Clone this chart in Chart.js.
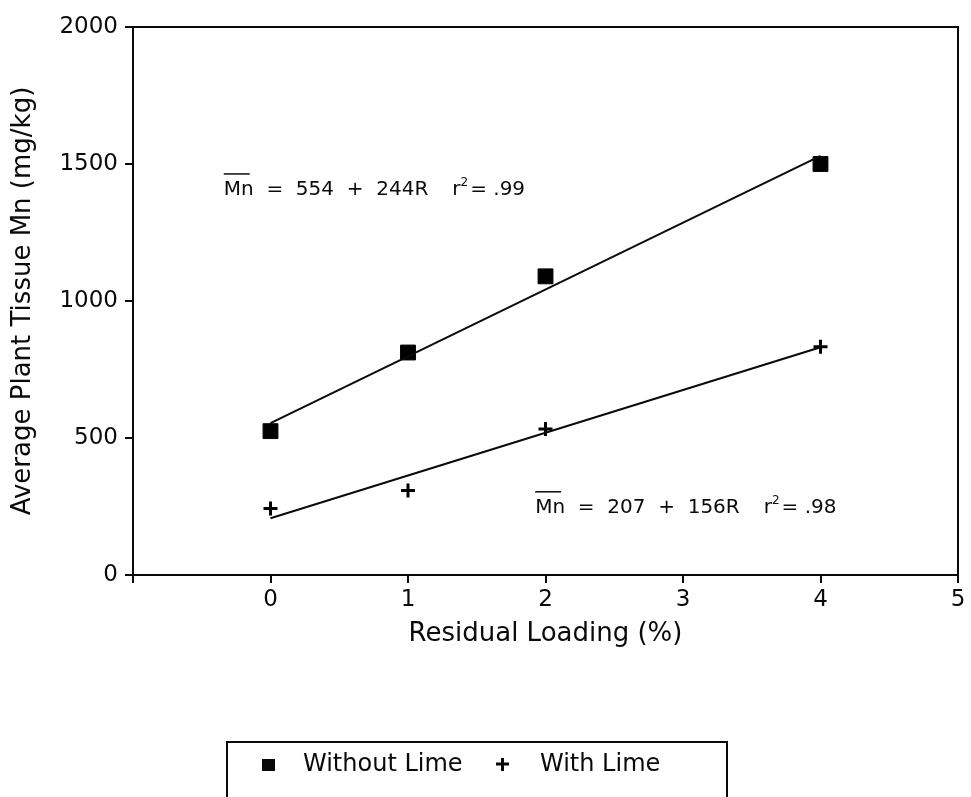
<!DOCTYPE html>
<html>
<head>
<meta charset="utf-8">
<title>Average Plant Tissue Mn</title>
<script src="https://cdn.jsdelivr.net/npm/chart.js@4.4.1/dist/chart.umd.min.js"></script>
<style>
  html, body { margin: 0; padding: 0; background: #fff; }
  canvas { display: block; }
</style>
</head>
<body>
<canvas id="grafico" width="971" height="797"></canvas>
<script>
// Datos
const cargaResiduo = [0, 1, 2, 4];
const sinCal = [525, 812, 1090, 1500];
const conCal = [243, 308, 533, 833];

// Rectas de regresion (extremos en R = 0 y R = 4)
const cargaAjuste = [0, 4];
const ajusteSinCal = [554, 1530];
const ajusteConCal = [207, 831];

const ticksX = [-1, 0, 1, 2, 3, 4, 5];
const ticksY = [0, 500, 1000, 1500, 2000];

const ecuaciones = ['Mn  =  554  +  244R', 'Mn  =  207  +  156R'];
const coefR2 = ['.99', '.98'];
const etiquetas = ['Without Lime', 'With Lime'];

const fuente = '"DejaVu Sans", "Liberation Sans", Arial, sans-serif';
const tinta = '#0a0a0a';

function puntos(xs, ys) {
    return xs.map((x, i) => ({ x: x, y: ys[i] }));
}

// Marco completo alrededor del area del grafico
const marco = {
    id: 'marco',
    afterDraw(chart) {
        const { ctx, chartArea: a } = chart;
        ctx.save();
        ctx.strokeStyle = tinta;
        ctx.lineWidth = 2;
        ctx.strokeRect(a.left, a.top, a.right - a.left, a.bottom - a.top);
        ctx.restore();
    }
};

// Ecuaciones de regresion con la barra sobre Mn
const textoEcuaciones = {
    id: 'textoEcuaciones',
    afterDatasetsDraw(chart) {
        const { ctx } = chart;
        const sx = chart.scales.x, sy = chart.scales.y;
        const lugares = [[-0.34, 1387], [1.925, 227]];
        ctx.save();
        ctx.fillStyle = tinta;
        ctx.strokeStyle = tinta;
        ctx.textBaseline = 'alphabetic';
        ecuaciones.forEach((texto, i) => {
            const x = sx.getPixelForValue(lugares[i][0]);
            const y = sy.getPixelForValue(lugares[i][1]);
            ctx.font = '20px ' + fuente;
            ctx.fillText(texto, x, y);
            const anchoMn = ctx.measureText('Mn').width;
            ctx.lineWidth = 1.5;
            ctx.beginPath();
            ctx.moveTo(x, y - 21);
            ctx.lineTo(x + anchoMn - 4, y - 21);
            ctx.stroke();
            let px = x + ctx.measureText(texto).width + 24;
            ctx.fillText('r', px, y);
            px += ctx.measureText('r').width;
            ctx.font = '12px ' + fuente;
            ctx.fillText('2', px, y - 9);
            px += ctx.measureText('2').width + 2;
            ctx.font = '20px ' + fuente;
            ctx.fillText('= ' + coefR2[i], px, y);
        });
        ctx.restore();
    }
};

// Leyenda en caja debajo del grafico
const leyendaCaja = {
    id: 'leyendaCaja',
    afterDraw(chart) {
        const { ctx } = chart;
        ctx.save();
        ctx.strokeStyle = tinta;
        ctx.lineWidth = 2;
        ctx.beginPath();
        ctx.moveTo(227, 800);
        ctx.lineTo(227, 742);
        ctx.lineTo(727, 742);
        ctx.lineTo(727, 800);
        ctx.stroke();

        const yc = 765;
        ctx.fillStyle = tinta;
        ctx.font = '24px ' + fuente;
        ctx.textBaseline = 'middle';
        // cuadrado
        ctx.fillRect(262, yc - 6, 13, 12);
        ctx.fillText(chart.data.datasets[2].label, 303, yc);
        // cruz
        ctx.lineWidth = 3;
        ctx.beginPath();
        ctx.moveTo(496, yc - 1);
        ctx.lineTo(509, yc - 1);
        ctx.moveTo(502.5, yc - 7);
        ctx.lineTo(502.5, yc + 6);
        ctx.stroke();
        ctx.fillText(chart.data.datasets[3].label, 540, yc);
        ctx.restore();
    }
};

const ctx = document.getElementById('grafico').getContext('2d');

new Chart(ctx, {
    type: 'scatter',
    data: {
        datasets: [
            {
                label: 'Ajuste sin cal',
                data: puntos(cargaAjuste, ajusteSinCal),
                showLine: true,
                borderColor: tinta,
                borderWidth: 2,
                pointRadius: 0
            },
            {
                label: 'Ajuste con cal',
                data: puntos(cargaAjuste, ajusteConCal),
                showLine: true,
                borderColor: tinta,
                borderWidth: 2,
                pointRadius: 0
            },
            {
                label: etiquetas[0],
                data: puntos(cargaResiduo, sinCal),
                pointStyle: 'rect',
                pointRadius: 10.5,
                backgroundColor: '#000',
                borderColor: '#000',
                borderWidth: 1
            },
            {
                label: etiquetas[1],
                data: puntos(cargaResiduo, conCal),
                pointStyle: 'cross',
                pointRadius: 7,
                borderColor: '#000',
                borderWidth: 3
            }
        ]
    },
    options: {
        responsive: false,
        animation: false,
        layout: { padding: { top: 27, right: 13, bottom: 147, left: 8 } },
        plugins: {
            legend: { display: false },
            tooltip: { enabled: false }
        },
        scales: {
            x: {
                type: 'linear',
                min: -1,
                max: 5,
                afterBuildTicks: s => { s.ticks = ticksX.map(v => ({ value: v })); },
                afterFit: s => { s.height = 75; },
                ticks: {
                    color: tinta,
                    font: { family: fuente, size: 23 },
                    padding: 3,
                    callback: v => (v < 0 ? '' : String(v))
                },
                grid: { drawOnChartArea: false, drawTicks: true, tickLength: 8, color: tinta, lineWidth: 2 },
                border: { display: true, color: tinta, width: 2 },
                title: {
                    display: true,
                    text: 'Residual Loading (%)',
                    color: tinta,
                    font: { family: fuente, size: 26 },
                    padding: 0
                }
            },
            y: {
                type: 'linear',
                min: 0,
                max: 2000,
                afterBuildTicks: s => { s.ticks = ticksY.map(v => ({ value: v })); },
                afterFit: s => { s.width = 125; },
                ticks: {
                    color: tinta,
                    font: { family: fuente, size: 23 },
                    padding: 7,
                    callback: v => String(v)
                },
                grid: { drawOnChartArea: false, drawTicks: true, tickLength: 8, color: tinta, lineWidth: 2 },
                border: { display: true, color: tinta, width: 2 },
                title: {
                    display: true,
                    text: 'Average Plant Tissue Mn (mg/kg)',
                    color: tinta,
                    font: { family: fuente, size: 26 },
                    padding: 0
                }
            }
        }
    },
    plugins: [marco, textoEcuaciones, leyendaCaja]
});
</script>
</body>
</html>
